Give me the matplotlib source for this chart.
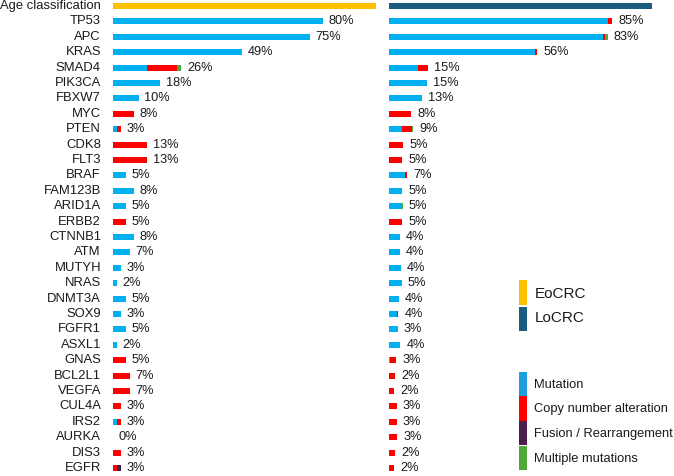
import matplotlib
matplotlib.use("Agg")
import matplotlib.pyplot as plt
from matplotlib.patches import Rectangle
import numpy as np

plt.rcParams['font.family'] = ['Liberation Sans', 'DejaVu Sans']

genes = ["TP53", "APC", "KRAS", "SMAD4", "PIK3CA", "FBXW7", "MYC", "PTEN", "CDK8", "FLT3",
         "BRAF", "FAM123B", "ARID1A", "ERBB2", "CTNNB1", "ATM", "MUTYH", "NRAS", "DNMT3A", "SOX9",
         "FGFR1", "ASXL1", "GNAS", "BCL2L1", "VEGFA", "CUL4A", "IRS2", "AURKA", "DIS3", "EGFR"]

# EoCRC (left panel)
eo_mut   = [80, 75, 49, 13, 18, 9.7, 0, 1.6, 0, 0,
            4.8, 8, 4.8, 0, 8, 6.5, 3, 1.6, 4.8, 3,
            4.8, 1.6, 0, 0, 0, 0, 1.6, 0, 0, 0]
eo_cna   = [0, 0, 0, 11.4, 0, 0, 8, 1.4, 13, 13,
            0, 0, 0, 4.8, 0, 0, 0, 0, 0, 0,
            0, 0, 4.8, 6.5, 6.5, 3, 1.4, 0, 3, 1.6]
eo_fus   = [0] * 29 + [1.4]
eo_multi = [0, 0, 0, 1.6] + [0] * 26
eo_labels = [80, 75, 49, 26, 18, 10, 8, 3, 13, 13, 5, 8, 5, 5, 8, 7, 3, 2, 5, 3,
             5, 2, 5, 7, 7, 3, 3, 0, 3, 3]

# LoCRC (right panel)
lo_mut   = [83.1, 81.5, 55.5, 10.9, 14.4, 12.2, 0, 4.8, 0, 0,
            6.0, 5.0, 4.7, 0, 3.7, 4.0, 4.4, 4.8, 3.7, 3.0,
            2.9, 4.2, 0.4, 0, 0, 0, 0, 0, 0, 0]
lo_cna   = [1.6, 0.8, 0.8, 3.9, 0, 0, 8.4, 3.8, 5.4, 5.1,
            0.7, 0, 0, 4.8, 0, 0, 0, 0, 0, 0.5,
            0, 0, 2.3, 2.3, 1.9, 2.9, 2.9, 3.2, 2.3, 1.9]
lo_fus   = [0] * 13 + [0.3] + [0] * 16
lo_multi = [0, 0.8, 0, 0, 0, 0.4, 0, 0.4, 0, 0,
            0, 0, 0.5, 0, 0.4, 0, 0, 0, 0, 0,
            0.4, 0, 0, 0, 0, 0, 0, 0, 0, 0]
lo_labels = [85, 83, 56, 15, 15, 13, 8, 9, 5, 5, 7, 5, 5, 5, 4, 4, 4, 5, 4, 4,
             3, 4, 3, 2, 2, 3, 3, 3, 2, 2]

age_label = "Age classification"
age_value = 100

C_MUT = "#00B0F0"
C_CNA = "#FF0000"
C_FUS = "#4B1C4F"
C_MULTI = "#4DAA3A"
C_EO = "#FFC000"
C_LO = "#1B5C80"
TXT = "#1a1a1a"

W, H = 674, 476
fig = plt.figure(figsize=(W / 100, H / 100), dpi=100)

def fx(px):
    return px / W

def fy(py):
    return 1 - py / H

top_px = 0.0
bot_px = 475.7
ylim = (30.5, -0.39)

def make_ax(x0, x1):
    ax = fig.add_axes([fx(x0), fy(bot_px), fx(x1) - fx(x0), (bot_px - top_px) / H])
    ax.set_xlim(0, (x1 - x0) / 2.63)
    ax.set_ylim(*ylim)
    ax.axis("off")
    return ax

axL = make_ax(113, 380)
axR = make_ax(389, 656)

bh = 0.4
ypos = np.arange(1, len(genes) + 1)

def draw(ax, age_color, mut, cna, fus, multi, labels, show_names, off):
    ax.barh([0], [age_value], height=0.43, color=age_color, left=0)
    mut = np.array(mut, float); cna = np.array(cna, float)
    fus = np.array(fus, float); multi = np.array(multi, float)
    left = np.zeros(len(genes))
    for vals, col in [(mut, C_MUT), (cna, C_CNA), (fus, C_FUS), (multi, C_MULTI)]:
        ax.barh(ypos, vals, left=left, height=bh, color=col, linewidth=0)
        left = left + vals
    for y, tot, lab in zip(ypos, left, labels):
        ax.annotate(f"{lab}%", (tot, y), xytext=(off, 0), textcoords="offset points",
                    ha="left", va="center", fontsize=9.2, color=TXT)
    if show_names:
        ax.text(-4.6, 0, age_label, ha="right", va="center", fontsize=9.4, color=TXT)
        for y, g in zip(ypos, genes):
            ax.text(-4.6, y, g, ha="right", va="center", fontsize=9.4, color=TXT)

draw(axL, C_EO, eo_mut, eo_cna, eo_fus, eo_multi, eo_labels, True, 4)
draw(axR, C_LO, lo_mut, lo_cna, lo_fus, lo_multi, lo_labels, False, 4.5)

# Legends
def leg_patch(x0, y0, x1, y1, color):
    fig.add_artist(Rectangle((fx(x0), fy(y1)), fx(x1) - fx(x0), (y1 - y0) / H,
                             transform=fig.transFigure, color=color, linewidth=0))

leg_patch(519, 280, 527, 305, C_EO)
leg_patch(519, 306.5, 527, 330.7, C_LO)
fig.text(fx(535), fy(294), "EoCRC", ha="left", va="center", fontsize=11, color=TXT)
fig.text(fx(535), fy(318.5), "LoCRC", ha="left", va="center", fontsize=11, color=TXT)

leg2 = [("Mutation", "#1E9FDB"), ("Copy number alteration", C_CNA),
        ("Fusion / Rearrangement", C_FUS), ("Multiple mutations", C_MULTI)]
y0 = 371.7
step = 24.75
for i, (lab, col) in enumerate(leg2):
    ya = y0 + i * step
    leg_patch(519, ya, 527, ya + step - 0.6, col)
    fig.text(fx(534), fy(ya + step / 2 + 0.5), lab, ha="left", va="center", fontsize=9.3, color=TXT)

fig.savefig("out.png", dpi=100)
